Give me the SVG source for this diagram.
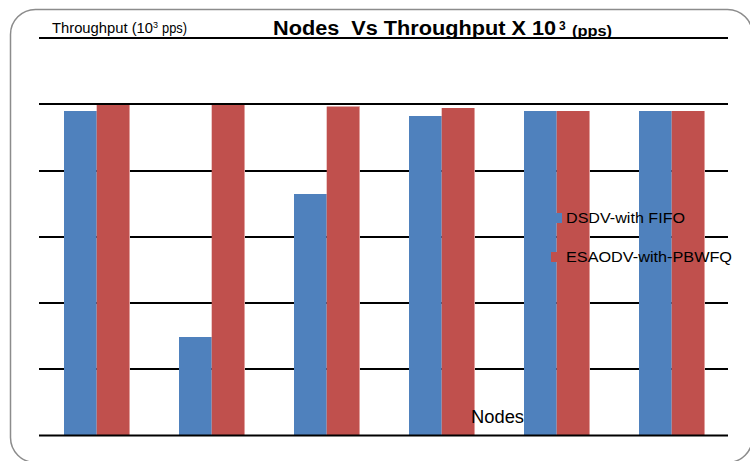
<svg xmlns="http://www.w3.org/2000/svg" width="750" height="461" viewBox="0 0 750 461">
  <style>
    .grid { stroke: #000; stroke-width: 2; }
    .fifo { fill: #4F81BD; }
    .pbwfq { fill: #C0504D; }
    .edge { fill: #E3A3A1; }
    .lbl { font-family: "Liberation Sans", Arial, sans-serif; fill: #000; }
    .ttl { font-family: "Liberation Sans", Arial, sans-serif; font-weight: bold; fill: #000; }
  </style>

  <!-- chart frame -->
  <rect x="10.5" y="9.5" width="742" height="453" rx="25" ry="25" fill="#fff" stroke="#8c8c8c" stroke-width="1.5"/>

  <!-- horizontal gridlines (behind bars) -->
  <g id="gridlines">
    <line class="grid" x1="39" y1="38" x2="728" y2="38"/>
    <line class="grid" x1="39" y1="104" x2="728" y2="104"/>
    <line class="grid" x1="39" y1="171" x2="728" y2="171"/>
    <line class="grid" x1="39" y1="237" x2="728" y2="237"/>
    <line class="grid" x1="39" y1="303" x2="728" y2="303"/>
    <line class="grid" x1="39" y1="369" x2="728" y2="369"/>
  </g>

  <!-- DSDV-with FIFO series -->
  <g id="series-fifo">
    <rect class="fifo" x="64" y="111" width="32.7" height="324"/>
    <rect class="fifo" x="179" y="337" width="32.7" height="98"/>
    <rect class="fifo" x="294" y="194" width="32.7" height="241"/>
    <rect class="fifo" x="409" y="116" width="32.7" height="319"/>
    <rect class="fifo" x="524" y="111" width="32.7" height="324"/>
    <rect class="fifo" x="639" y="111" width="32.7" height="324"/>
  </g>

  <!-- ESAODV-with-PBWFQ series -->
  <g id="series-pbwfq">
    <rect class="pbwfq" x="96.7" y="105" width="33" height="330"/>
    <rect class="pbwfq" x="211.7" y="105" width="33" height="330"/>
    <rect class="pbwfq" x="326.7" y="106.5" width="33" height="328.5"/>
    <rect class="pbwfq" x="441.7" y="108" width="33" height="327"/>
    <rect class="pbwfq" x="556.7" y="111" width="33" height="324"/>
    <rect class="pbwfq" x="671.7" y="111" width="33" height="324"/>
    <rect class="edge" x="129" y="105" width="0.9" height="330"/>
    <rect class="edge" x="244" y="105" width="0.9" height="330"/>
    <rect class="edge" x="359" y="106.5" width="0.9" height="328.5"/>
    <rect class="edge" x="474" y="108" width="0.9" height="327"/>
    <rect class="edge" x="589" y="111" width="0.9" height="324"/>
    <rect class="edge" x="704" y="111" width="0.9" height="324"/>
  </g>

  <!-- category axis -->
  <line id="x-axis" class="grid" x1="39" y1="435.5" x2="728" y2="435.5"/>

  <!-- titles -->
  <g id="titles">
    <text class="lbl" x="52" y="33" font-size="14" textLength="101" lengthAdjust="spacingAndGlyphs">Throughput (10</text>
    <text class="lbl" x="153" y="28" font-size="9">3</text>
    <text class="lbl" x="162" y="33" font-size="14" textLength="25" lengthAdjust="spacingAndGlyphs">pps)</text>
    <text class="ttl" x="273" y="35" font-size="19.5" textLength="283" lengthAdjust="spacingAndGlyphs">Nodes&#160; Vs Throughput X 10</text>
    <text class="ttl" x="559" y="30" font-size="12">3</text>
    <text class="ttl" x="572" y="36" font-size="15" textLength="40" lengthAdjust="spacingAndGlyphs">(pps)</text>
    <text class="lbl" x="471" y="423" font-size="18" textLength="53" lengthAdjust="spacingAndGlyphs">Nodes</text>
  </g>

  <!-- legend -->
  <g id="legend">
    <rect class="fifo" x="551" y="213" width="11" height="10"/>
    <text class="lbl" x="566" y="223" font-size="15.5" textLength="119" lengthAdjust="spacingAndGlyphs">DSDV-with FIFO</text>
    <rect class="pbwfq" x="551" y="252" width="11" height="10"/>
    <text class="lbl" x="566" y="262" font-size="15.5" textLength="166" lengthAdjust="spacingAndGlyphs">ESAODV-with-PBWFQ</text>
  </g>
</svg>
